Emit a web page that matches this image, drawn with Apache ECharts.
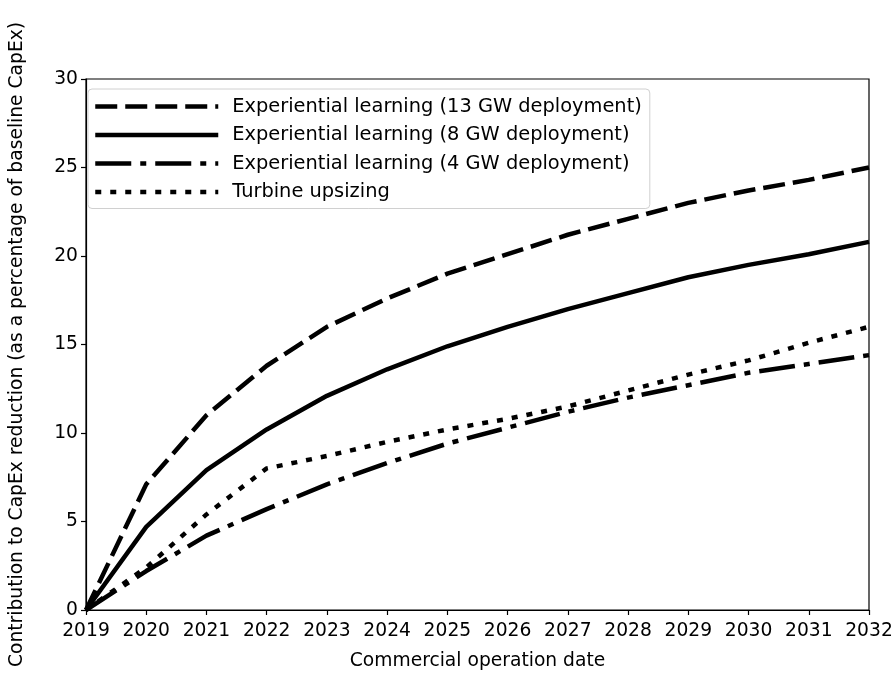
<!DOCTYPE html>
<html>
<head>
<meta charset="utf-8">
<script src="https://cdn.jsdelivr.net/npm/echarts@6/dist/echarts.min.js"></script>
<style>html,body{margin:0;padding:0;background:#fff}#c{width:896px;height:685px}</style>
</head>
<body>
<div id="c"></div>
<script>
var years = [2019, 2020, 2021, 2022, 2023, 2024, 2025, 2026, 2027, 2028, 2029, 2030, 2031, 2032];
var learning13 = [0, 7.1, 11.0, 13.8, 16.0, 17.6, 19.0, 20.1, 21.2, 22.1, 23.0, 23.7, 24.3, 25.0];
var learning8 = [0, 4.7, 7.9, 10.2, 12.1, 13.6, 14.9, 16.0, 17.0, 17.9, 18.8, 19.5, 20.1, 20.8];
var learning4 = [0, 2.2, 4.2, 5.7, 7.1, 8.3, 9.4, 10.3, 11.2, 12.0, 12.7, 13.4, 13.9, 14.4];
var upsizing = [0, 2.4, 5.4, 8.0, 8.7, 9.5, 10.2, 10.8, 11.5, 12.4, 13.3, 14.1, 15.1, 16.0];
var seriesNames = [
  'Experiential learning (13 GW deployment)',
  'Experiential learning (8 GW deployment)',
  'Experiential learning (4 GW deployment)',
  'Turbine upsizing'
];

function pairs(vals) { return years.map(function (y, i) { return [y, vals[i]]; }); }

var FONT = 'DejaVu Sans';
var FS = 18.7;
var LFS = 19.4;
var LW = 4.5;

function mkSeries(name, vals, type) {
  return {
    name: name,
    type: 'line',
    data: pairs(vals),
    showSymbol: false,
    symbol: 'none',
    smooth: false,
    lineStyle: { color: '#000', width: LW, type: type, cap: 'butt', join: 'round' },
    itemStyle: { color: '#000' },
    animation: false,
    z: 3
  };
}

var chart = echarts.init(document.getElementById('c'), null, { renderer: 'canvas' });
chart.setOption({
  backgroundColor: '#fff',
  animation: false,
  textStyle: { fontFamily: FONT },
  grid: { left: 79, right: 27, top: 79, bottom: 75, containLabel: false, show: true, borderColor: '#000', borderWidth: 1.2 },
  xAxis: {
    type: 'value',
    min: 2019, max: 2032, interval: 1,
    name: 'Commercial operation date',
    nameLocation: 'middle',
    nameGap: 42,
    nameTextStyle: { fontFamily: FONT, fontSize: FS, color: '#000' },
    axisLine: { show: true, onZero: false, lineStyle: { color: '#000', width: 1.2 } },
    axisTick: { show: true, inside: false, length: 5, lineStyle: { color: '#000', width: 1.2 } },
    axisLabel: { fontFamily: FONT, fontSize: FS, color: '#000', margin: 12, formatter: function (v) { return String(v); } },
    splitLine: { show: false }
  },
  yAxis: {
    type: 'value',
    min: 0, max: 30, interval: 5,
    name: 'Contribution to CapEx reduction (as a percentage of baseline CapEx)',
    nameLocation: 'middle',
    nameGap: 59,
    nameRotate: 90,
    nameTextStyle: { fontFamily: FONT, fontSize: FS, color: '#000' },
    axisLine: { show: true, lineStyle: { color: '#000', width: 1.2 } },
    axisTick: { show: true, inside: false, length: 5, lineStyle: { color: '#000', width: 1.2 } },
    axisLabel: { fontFamily: FONT, fontSize: FS, color: '#000', margin: 8 },
    splitLine: { show: false }
  },
  legend: {
    show: true,
    orient: 'vertical',
    left: 88,
    top: 89,
    padding: [7, 8, 6, 5],
    itemGap: 7.5,
    itemWidth: 123,
    itemHeight: 21,
    itemStyle: { opacity: 0, borderWidth: 0 },
    lineStyle: { width: LW, type: 'inherit', cap: 'butt' },
    backgroundColor: 'rgba(255,255,255,0.85)',
    borderColor: '#d0d0d0',
    borderWidth: 1,
    borderRadius: 4,
    textStyle: { fontFamily: FONT, fontSize: LFS, lineHeight: 21, color: '#000', padding: [0, 0, 0, 9] },
    data: seriesNames
  },
  series: [
    mkSeries(seriesNames[0], learning13, [22, 8]),
    mkSeries(seriesNames[1], learning8, 'solid'),
    mkSeries(seriesNames[2], learning4, [36, 9, 6, 9]),
    mkSeries(seriesNames[3], upsizing, [6, 9])
  ]
});
</script>
</body>
</html>
